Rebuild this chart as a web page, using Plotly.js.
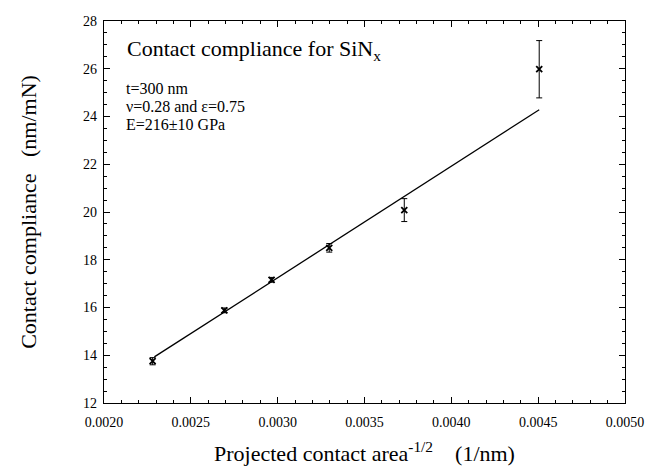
<!DOCTYPE html>
<html>
<head>
<meta charset="utf-8">
<script src="https://cdn.plot.ly/plotly-3.0.1.min.js"></script>
<style>html,body{margin:0;padding:0;background:#fff;}#chart{width:648px;height:472px;}</style>
</head>
<body>
<div id="chart"></div>
<script>
// Measured data points
const areaInvSqrt = [0.00228, 0.002693, 0.002965, 0.003297, 0.003729, 0.004506];
const compliance  = [13.75, 15.88, 17.16, 18.5, 20.08, 25.98];
const complianceErr = [0.15, 0.1, 0.1, 0.18, 0.48, 1.2];
// Linear fit line endpoints
const fitX = [0.00229, 0.004506];
const fitY = [13.93, 24.28];
const xTicks = [0.002, 0.0025, 0.003, 0.0035, 0.004, 0.0045, 0.005];
const yTicks = [12, 14, 16, 18, 20, 22, 24, 26, 28];
const plotTitle = 'Contact compliance for SiN<sub>x</sub>';
const infoLines = ['t=300 nm', '\u03bd=0.28 and \u03b5=0.75', 'E=216\u00b110 GPa'];

const font = 'Liberation Serif';

const traces = [
  {x: fitX, y: fitY, mode: 'lines', type: 'scatter',
   line: {color: '#000', width: 1.3}, hoverinfo: 'skip'},
  {x: areaInvSqrt, y: compliance, mode: 'markers', type: 'scatter',
   marker: {symbol: 'x-thin', size: 6, color: '#000', line: {color: '#000', width: 1.8}},
   error_y: {type: 'data', array: complianceErr, visible: true, color: '#000', thickness: 1, width: 3}}
];

const axisCommon = {
  showline: true, linecolor: '#000', linewidth: 1.2, mirror: 'ticks',
  ticks: 'inside', ticklen: 6, tickcolor: '#000', tickwidth: 1,
  showgrid: false, zeroline: false,
  tickfont: {family: font, size: 14, color: '#000'}
};

const infoY = [0.822, 0.776, 0.730];
const annotations = [
  {xref: 'paper', yref: 'paper', x: 0.04, y: 0.924, xanchor: 'left', yanchor: 'middle', showarrow: false,
   text: plotTitle, font: {family: font, size: 22, color: '#000'}}
].concat(infoLines.map((t, i) => ({
  xref: 'paper', yref: 'paper', x: 0.04, y: infoY[i], xanchor: 'left', yanchor: 'middle', showarrow: false,
  text: t, font: {family: font, size: 16, color: '#000'}, borderpad: 0
})));

const layout = {
  width: 648, height: 472,
  margin: {l: 104, r: 23, t: 21, b: 69},
  paper_bgcolor: '#fff', plot_bgcolor: '#fff',
  showlegend: false,
  font: {family: font, color: '#000'},
  xaxis: Object.assign({}, axisCommon, {
    range: [0.002, 0.005], tickvals: xTicks, ticktext: xTicks.map(v => v.toFixed(4)),
    ticklabelstandoff: 6,
    minor: {dtick: 0.0001, tick0: 0.002, ticks: 'inside', ticklen: 3, tickcolor: '#000', showgrid: false},
    title: {text: 'Projected contact area<sup>-1/2</sup>\u00a0\u00a0\u00a0\u00a0(1/nm)', font: {family: font, size: 22, color: '#000'}, standoff: 16}
  }),
  yaxis: Object.assign({}, axisCommon, {
    range: [12, 28], tickvals: yTicks, ticktext: yTicks.map(String),
    ticklabelstandoff: 3,
    minor: {dtick: 0.5, tick0: 12, ticks: 'inside', ticklen: 3, tickcolor: '#000', showgrid: false},
    title: {text: 'Contact compliance\u00a0\u00a0\u00a0(nm/mN)', font: {family: font, size: 22, color: '#000'}, standoff: 40}
  }),
  annotations: annotations
};

Plotly.newPlot('chart', traces, layout, {displayModeBar: false, staticPlot: true});
</script>
</body>
</html>
